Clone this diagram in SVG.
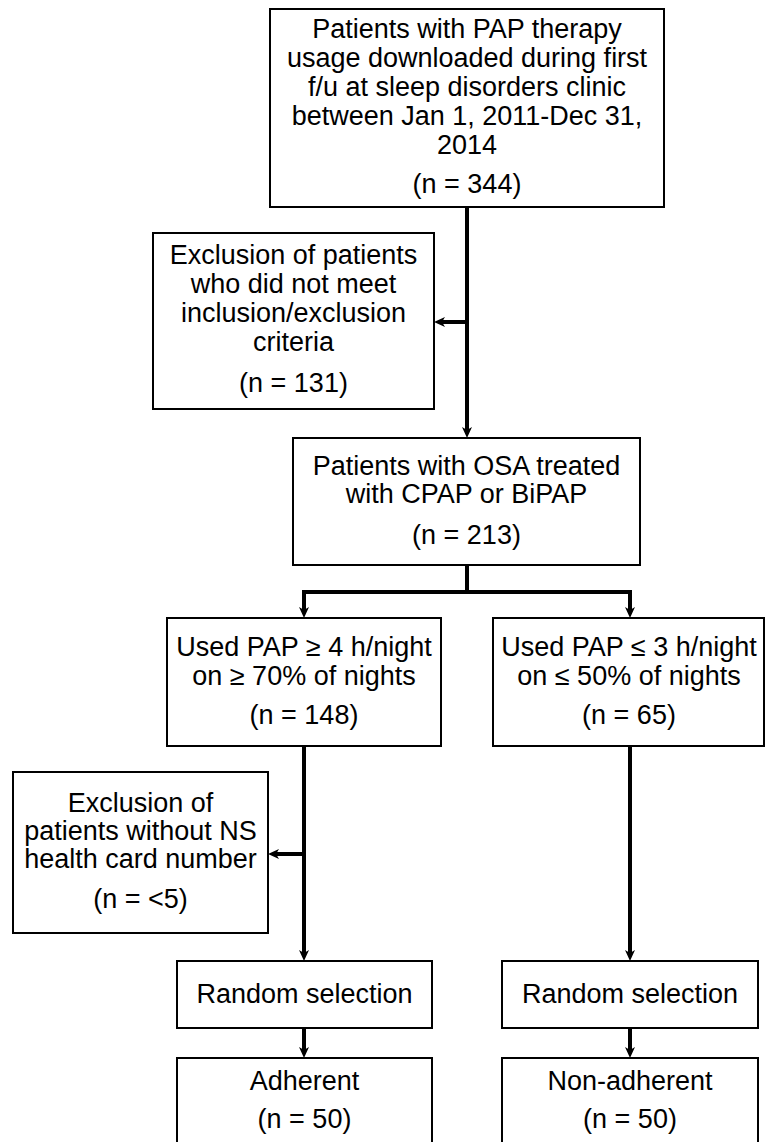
<svg xmlns="http://www.w3.org/2000/svg" width="766" height="1142" viewBox="0 0 766 1142">
  <style>
    .box { fill: #ffffff; stroke: #000000; stroke-width: 2; }
    .t { font-family: "Liberation Sans", Arial, sans-serif; font-size: 27px; fill: #000000; text-anchor: middle; }
    .c { stroke: #000000; stroke-width: 4; fill: none; }
  </style>
  <defs>
    <marker id="ah" markerUnits="userSpaceOnUse" viewBox="0 0 12 12" markerWidth="12" markerHeight="12" refX="3" refY="6" orient="auto">
      <path d="M0,1 L11,6 L0,11 L3,6 Z" fill="#000000"/>
    </marker>
  </defs>
  <rect width="766" height="1142" fill="#ffffff"/>

  <g id="connectors">
    <line class="c" x1="467" y1="208" x2="467" y2="430" marker-end="url(#ah)"/>
    <line class="c" x1="467" y1="322" x2="442" y2="322" marker-end="url(#ah)"/>
    <line class="c" x1="467" y1="566" x2="467" y2="592"/>
    <line class="c" x1="302" y1="592" x2="632" y2="592"/>
    <line class="c" x1="304" y1="592" x2="304" y2="610" marker-end="url(#ah)"/>
    <line class="c" x1="630" y1="592" x2="630" y2="610" marker-end="url(#ah)"/>
    <line class="c" x1="304" y1="747" x2="304" y2="953" marker-end="url(#ah)"/>
    <line class="c" x1="304" y1="854" x2="276" y2="854" marker-end="url(#ah)"/>
    <line class="c" x1="630" y1="747" x2="630" y2="953" marker-end="url(#ah)"/>
    <line class="c" x1="304" y1="1029" x2="304" y2="1050" marker-end="url(#ah)"/>
    <line class="c" x1="630" y1="1029" x2="630" y2="1050" marker-end="url(#ah)"/>
  </g>

  <g id="n-start">
    <rect class="box" x="270" y="9" width="394" height="198"/>
    <text class="t" x="467" y="38">Patients with PAP therapy</text>
    <text class="t" x="467" y="67">usage downloaded during first</text>
    <text class="t" x="467" y="96">f/u at sleep disorders clinic</text>
    <text class="t" x="467" y="125">between Jan 1, 2011-Dec 31,</text>
    <text class="t" x="467" y="154">2014</text>
    <text class="t" x="467" y="193">(n = 344)</text>
  </g>

  <g id="n-excl1">
    <rect class="box" x="153" y="233" width="281" height="176"/>
    <text class="t" x="293.5" y="264">Exclusion of patients</text>
    <text class="t" x="293.5" y="293">who did not meet</text>
    <text class="t" x="293.5" y="322">inclusion/exclusion</text>
    <text class="t" x="293.5" y="351">criteria</text>
    <text class="t" x="293.5" y="392">(n = 131)</text>
  </g>

  <g id="n-osa">
    <rect class="box" x="293" y="438" width="347" height="127"/>
    <text class="t" x="466.5" y="475">Patients with OSA treated</text>
    <text class="t" x="466.5" y="503">with CPAP or BiPAP</text>
    <text class="t" x="466.5" y="544">(n = 213)</text>
  </g>

  <g id="n-high">
    <rect class="box" x="167" y="618" width="274" height="128"/>
    <text class="t" x="304" y="656">Used PAP ≥ 4 h/night</text>
    <text class="t" x="304" y="685">on ≥ 70% of nights</text>
    <text class="t" x="304" y="724">(n = 148)</text>
  </g>

  <g id="n-low">
    <rect class="box" x="493" y="618" width="271" height="128"/>
    <text class="t" x="629" y="656">Used PAP ≤ 3 h/night</text>
    <text class="t" x="629" y="685">on ≤ 50% of nights</text>
    <text class="t" x="629" y="724">(n = 65)</text>
  </g>

  <g id="n-excl2">
    <rect class="box" x="13" y="772" width="255" height="161"/>
    <text class="t" x="140.5" y="812">Exclusion of</text>
    <text class="t" x="140.5" y="840">patients without NS</text>
    <text class="t" x="140.5" y="868">health card number</text>
    <text class="t" x="140.5" y="908">(n = &lt;5)</text>
  </g>

  <g id="n-rand-left">
    <rect class="box" x="177" y="961" width="255" height="67"/>
    <text class="t" x="304.5" y="1003">Random selection</text>
  </g>

  <g id="n-rand-right">
    <rect class="box" x="502" y="961" width="256" height="67"/>
    <text class="t" x="630" y="1003">Random selection</text>
  </g>

  <g id="n-adherent">
    <rect class="box" x="177" y="1058" width="255" height="100"/>
    <text class="t" x="304.5" y="1090">Adherent</text>
    <text class="t" x="304.5" y="1128">(n = 50)</text>
  </g>

  <g id="n-nonadherent">
    <rect class="box" x="502" y="1058" width="256" height="100"/>
    <text class="t" x="630" y="1090">Non-adherent</text>
    <text class="t" x="630" y="1128">(n = 50)</text>
  </g>
</svg>
